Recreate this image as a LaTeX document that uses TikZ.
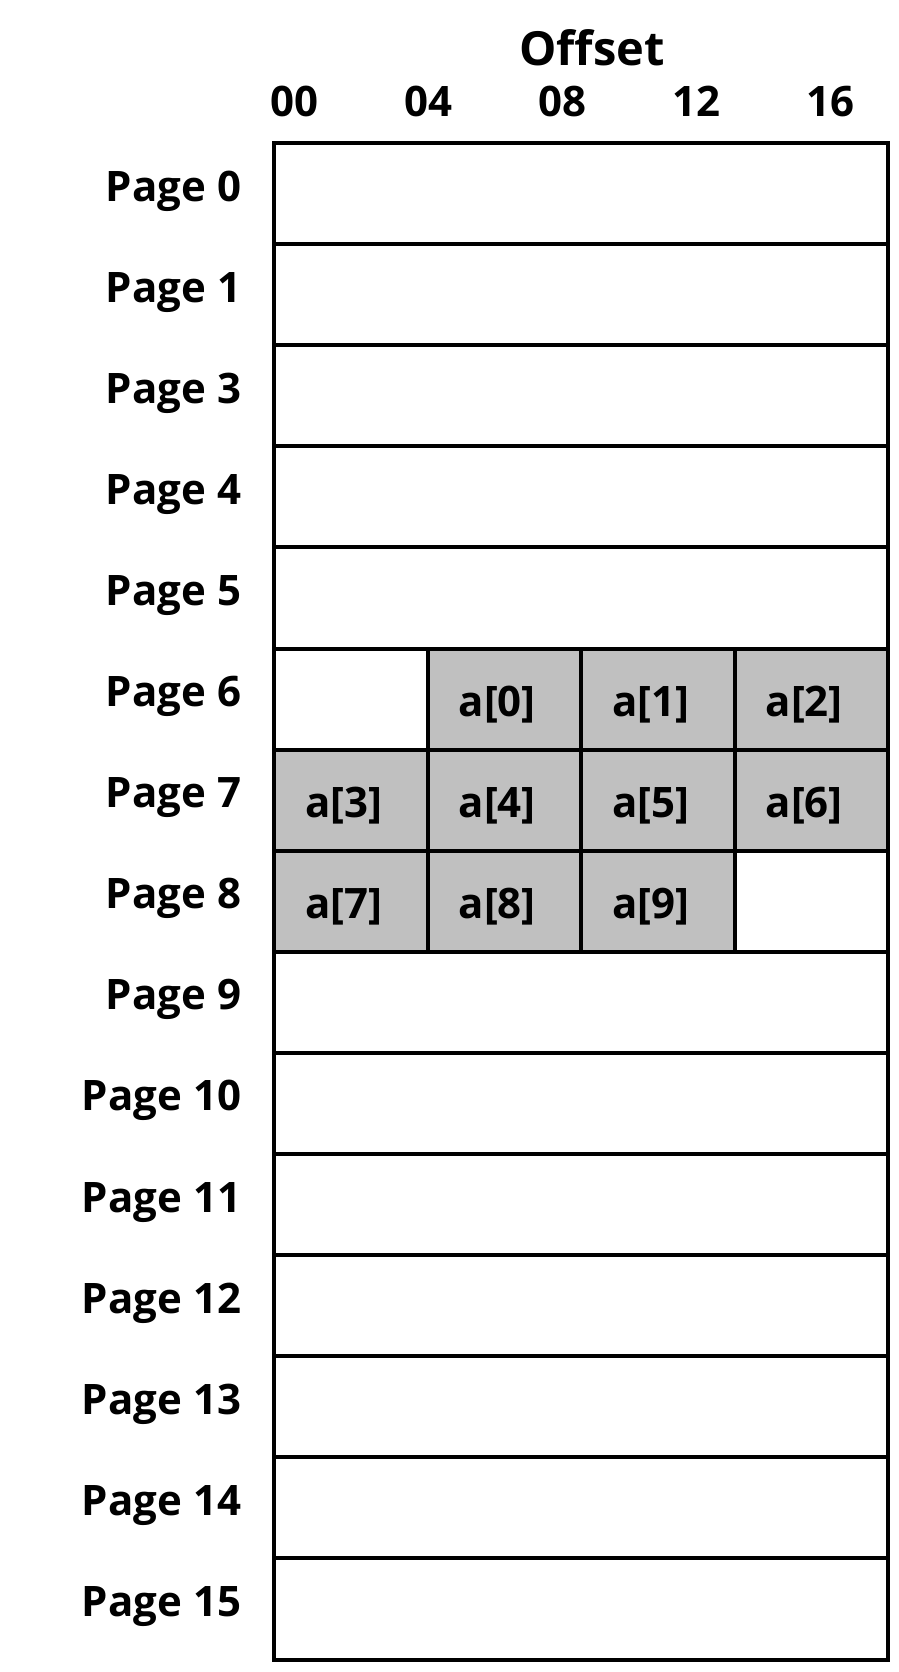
\documentclass[tikz,border=0pt]{standalone}
\usepackage{fontspec}
\setmainfont{Open Sans}
\begin{document}
\begin{tikzpicture}[x=1pt,y=-1pt,
  cell/.style={draw=black,line width=4pt,inner sep=0pt,outer sep=0pt,minimum height=101.1pt,anchor=north west},
  fullrow/.style={cell,fill=white,minimum width=614pt},
  part/.style={cell,minimum width=153.5pt},
  used/.style={part,fill=gray75},
  free/.style={part,fill=white},
  txt/.style={font=\fontsize{42}{50}\selectfont\bfseries,inner sep=0pt,outer sep=0pt},
  pagelbl/.style={txt,anchor=base east},
  offlbl/.style={txt,anchor=base},
  elem/.style={txt,anchor=base}]
\definecolor{gray75}{HTML}{C0C0C0}
\useasboundingbox (0,0) rectangle (898,1672);
\fill[white] (0,0) rectangle (898,1672);
% title and offsets
\node[offlbl,font=\fontsize{47}{56}\selectfont\bfseries] (title) at (592,66) {Offset};
\node[offlbl] (o0) at (294.5,117) {00};
\node[offlbl] (o4) at (428,117) {04};
\node[offlbl] (o8) at (562,117) {08};
\node[offlbl] (o12) at (696,117) {12};
\node[offlbl] (o16) at (830,117) {16};
% rows
\foreach \i/\p in {0/0,1/1,2/3,3/4,4/5,8/9,9/10,10/11,11/12,12/13,13/14,14/15}{
  \node[fullrow] (r\i) at (274,{143+\i*101.1}) {};
}
% row 6 (index 5)
\node[free] (c50) at (274,{143+5*101.1}) {};
\node[used] (c51) at (427.5,{143+5*101.1}) {};
\node[used] (c52) at (581,{143+5*101.1}) {};
\node[used] (c53) at (734.5,{143+5*101.1}) {};
% row 7 (index 6)
\node[used] (c60) at (274,{143+6*101.1}) {};
\node[used] (c61) at (427.5,{143+6*101.1}) {};
\node[used] (c62) at (581,{143+6*101.1}) {};
\node[used] (c63) at (734.5,{143+6*101.1}) {};
% row 8 (index 7)
\node[used] (c70) at (274,{143+7*101.1}) {};
\node[used] (c71) at (427.5,{143+7*101.1}) {};
\node[used] (c72) at (581,{143+7*101.1}) {};
\node[free] (c73) at (734.5,{143+7*101.1}) {};
% element labels
\foreach \c/\t in {c51/0,c52/1,c53/2,c60/3,c61/4,c62/5,c63/6,c70/7,c71/8,c72/9}{
  \node[elem] (e\c) at ([xshift=-7pt,yshift=-17pt]\c.center) {a[\t]};
}
% page labels
\foreach \i/\p in {0/0,1/1,2/3,3/4,4/5,5/6,6/7,7/8,8/9,9/10,10/11,11/12,12/13,13/14,14/15}{
  \node[pagelbl] (p\i) at (241,{143+\i*101.1+50.55+7.5}) {Page \p};
}
\end{tikzpicture}
\end{document}
